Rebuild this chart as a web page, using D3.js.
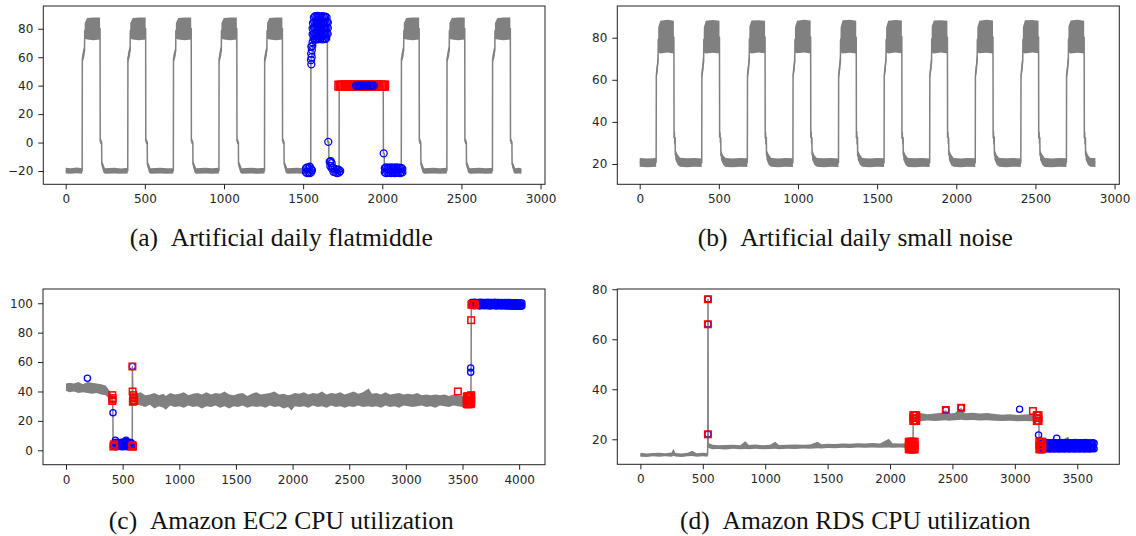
<!DOCTYPE html>
<html>
<head>
<meta charset="utf-8">
<script src="https://cdn.jsdelivr.net/npm/d3@7"></script>
<style>
  body { margin: 0; background: #ffffff; }
  .tick text { font-family: "DejaVu Sans", sans-serif; font-size: 12px; fill: #262626; }
  .caption { font-family: "Liberation Serif", "Times New Roman", serif; font-size: 25.5px; fill: #111; }
</style>
</head>
<body>
<div id="figure"></div>
<script>
// series rows are [x, low, high] : band of the grey curve
const aSeries = [
  [0,-21.8,-17.8],[30,-22,-18],[70,-21.6,-17.6],[104,-22,-18],[105,56,62],[112,58,66],[119,61,68],[120,73,84],[135,72.5,87.5],[175,72,88],[217,72.5,88],[218,-1,3],[227,-1,2],[228,-17,-13],[238,-21,-15],[248,-22,-18],
  [308,-21.8,-17.8],[350,-22,-18.2],[392,-21.7,-17.8],[393,56,63],[400,58,66],[407,61,68],[408,73,84],[423,72.5,87.5],[463,72,88],[505,72.5,88],[506,-1,3],[515,-1,2],[516,-17,-13],[526,-21,-15],[536,-22,-18],
  [596,-21.8,-17.8],[640,-22,-18],[680,-21.7,-17.9],[681,56,62],[688,58,65],[695,61,68],[696,73,84],[711,72.5,87.5],[751,72,88],[793,72.5,88],[794,-1,3],[803,-1,2],[804,-17,-13],[814,-21,-15],[824,-22,-18],
  [884,-21.8,-17.8],[925,-22,-18],[968,-21.7,-17.8],[969,56,62],[976,58,66],[983,61,68],[984,73,84],[999,72.5,87.5],[1039,72,88],[1081,72.5,88],[1082,-1,3],[1091,-1,2],[1092,-17,-13],[1102,-21,-15],[1112,-22,-18],
  [1172,-21.8,-17.8],[1215,-22,-18],[1256,-21.7,-17.8],[1257,56,62],[1264,58,66],[1271,61,68],[1272,73,84],[1287,72.5,87.5],[1327,72,88],[1369,72.5,88],[1370,-1,3],[1379,-1,2],[1380,-17,-13],[1390,-21,-15],[1400,-22,-18],
  [1460,-21.8,-17.8],[1500,-22,-18],[1548,-21.7,-17.8],[1549,55,60],[1556,57,66],[1560,60,70],[1561,72,84],[1575,72.5,87.5],[1615,72,88],[1653,72.5,88],[1654,-1,2],[1662,-0.5,1.5],[1663,-15,-12],[1672,-20,-15],[1682,-22,-18],[1705,-21.8,-17.8],[1727,-22,-18],
  [1728,40,40],[2006,40,40],[2007,-8,-7],[2012,-8,-7],[2013,-20,-17],[2022,-22,-18],
  [2060,-21.8,-17.8],[2100,-22,-18],[2120,-21.7,-17.8],[2121,56,62],[2128,58,66],[2135,61,68],[2136,73,84],[2151,72.5,87.5],[2191,72,88],[2233,72.5,88],[2234,-1,3],[2243,-1,2],[2244,-17,-13],[2254,-21,-15],[2264,-22,-18],
  [2324,-21.8,-17.8],[2365,-22,-18],[2408,-21.7,-17.8],[2409,56,62],[2416,58,66],[2423,61,68],[2424,73,84],[2439,72.5,87.5],[2479,72,88],[2521,72.5,88],[2522,-1,3],[2531,-1,2],[2532,-17,-13],[2542,-21,-15],[2552,-22,-18],
  [2612,-21.8,-17.8],[2655,-22,-18],[2696,-21.7,-17.8],[2697,56,62],[2704,58,66],[2711,61,68],[2712,73,84],[2727,72.5,87.5],[2767,72,88],[2809,72.5,88],[2810,-1,3],[2819,-1,2],[2820,-17,-13],[2830,-21,-15],[2840,-22,-18],[2860,-21.8,-17.8],[2879,-22,-18]
];
const aBlue = [
  [1518,-18],[1518,-21],[1526,-17.5],[1526,-21.5],[1534,-18],[1534,-21],[1542,-17],[1542,-21.5],[1550,-18.5],[1550,-21],[1556,-19.5],
  [1552,55],[1550,58],[1554,60],[1551,62.5],[1555,65],[1552,67.5],[1558,68],[1560,70.5],
  [1568,88],[1576,88.8],[1584,88.2],[1592,89],[1600,88.3],[1608,88.7],[1616,88.1],[1624,88.9],[1632,88.2],[1640,88.6],[1648,88],
  [1562,84],[1570,85],[1578,84.3],[1586,84.8],[1594,84.1],[1602,85],[1610,84.4],[1618,84.9],[1626,84.2],[1634,84.7],[1642,84.1],[1650,84.8],[1656,84.4],
  [1560,80.2],[1568,80.9],[1576,80.3],[1584,80.7],[1592,80.1],[1600,81],[1608,80.4],[1616,80.8],[1624,80.2],[1632,80.7],[1640,80.3],[1648,80.9],[1656,80.5],
  [1560,76.2],[1568,76.8],[1576,76.1],[1584,76.9],[1592,76.4],[1600,76.7],[1608,76.2],[1616,76.9],[1624,76.3],[1632,76.6],[1640,76.1],[1648,76.8],[1655,76.4],
  [1566,73.2],[1574,72.6],[1582,73.1],[1590,72.5],[1598,73],[1606,72.7],[1614,73.3],[1622,72.6],[1630,73],[1638,72.8],[1646,73.2],
  [1659,0.5],
  [1668,-13.5],[1674,-13],[1680,-14.5],[1672,-16.5],[1680,-18],[1688,-17.5],[1692,-20.5],[1700,-18.5],[1704,-21],[1712,-19],[1716,-21.5],[1724,-19],[1728,-21],[1734,-20],
  [1834,40],[1842,40],[1850,40],[1858,40],[1866,40],[1874,40],[1882,40],[1890,40],[1898,40],[1906,40],[1914,40],[1922,40],[1930,40],[1938,40],[1946,40],
  [2009,-7.6],
  [2016,-18],[2016,-21],[2024,-17.5],[2024,-21.5],[2032,-18.2],[2032,-20.8],[2040,-17.6],[2040,-21.3],[2048,-18],[2048,-21],[2056,-17.4],[2056,-21.5],[2064,-18.1],[2064,-20.9],[2072,-17.7],[2072,-21.2],[2080,-18],[2080,-21.4],[2088,-17.5],[2088,-20.8],[2096,-18.2],[2096,-21.3],[2104,-17.6],[2104,-21],[2112,-18],[2112,-21.5],[2120,-17.8],[2120,-20.9],[2127,-18.5],[2127,-21]
];
const aRed = [
  [1728,40],[1736,40],[1744,40],[1752,40],[1760,40],[1768,40],[1776,40],[1784,40],[1792,40],[1800,40],[1808,40],[1816,40],[1824,40],[1832,40],[1840,40],[1848,40],[1856,40],[1864,40],[1872,40],
  [1880,40],[1888,40],[1896,40],[1904,40],[1912,40],[1920,40],[1928,40],[1936,40],[1944,40],[1952,40],[1960,40],[1968,40],[1976,40],[1984,40],[1992,40],[2000,40],[2008,40],[2012,40]
];

const bSeries = [
  [0,18.7,22.8],[50,18.5,22.6],[104,18.7,22.9],
  [105,60,64],[110,62,69],[116,65,72],[117,73,85],[130,72.5,88],[175,73,88.5],[216,72.5,88],[217,29,36],[224,30,35],[225,22,27],[240,19.5,24.5],[255,18.7,23],[300,18.5,22.7],[345,18.7,22.9],[392,18.6,22.6],
  [393,61,65],[398,62,70],[404,65,72],[405,73,85],[418,72.5,88],[463,72.8,88.4],[504,72.5,88],[505,30,36],[512,30,34.5],[513,22,26.5],[528,19.5,24],[543,18.6,22.9],[588,18.5,22.6],[633,18.7,22.8],[680,18.6,22.7],
  [681,60,64],[686,62,69],[692,65,72.5],[693,73,85.5],[706,72.5,88.2],[751,73,88.3],[792,72.6,88],[793,29,35.5],[800,30,35],[801,22,26.8],[816,19.4,24.5],[831,18.7,22.9],[876,18.5,22.6],[921,18.7,22.8],[968,18.6,22.7],
  [969,60.5,64],[974,62,69.5],[980,65,72],[981,73,85],[994,72.6,88],[1039,73,88.5],[1080,72.5,88.2],[1081,29.5,36],[1088,30,35],[1089,22,27],[1104,19.5,24.2],[1119,18.7,22.9],[1164,18.5,22.7],[1209,18.7,22.8],[1256,18.6,22.6],
  [1257,60,64.5],[1262,62,69],[1268,65,72],[1269,73,85],[1282,72.5,88.3],[1327,72.8,88.5],[1368,72.5,88],[1369,29,36],[1376,30,35.5],[1377,22,26.5],[1392,19.5,24.5],[1407,18.7,22.8],[1452,18.5,22.6],[1497,18.7,22.9],[1544,18.6,22.7],
  [1545,60,64],[1550,62,69],[1556,65,72.5],[1557,73,85],[1570,72.5,88],[1615,73,88.4],[1656,72.6,88.2],[1657,29,35.5],[1664,30,35],[1665,22,27],[1680,19.5,24.3],[1695,18.6,22.9],[1740,18.5,22.7],[1785,18.7,22.8],[1832,18.6,22.6],
  [1833,60.5,64],[1838,62,69],[1844,65,72],[1845,73,85.5],[1858,72.5,88.2],[1903,73,88.3],[1944,72.5,88],[1945,29.5,36],[1952,30,35],[1953,22,26.8],[1968,19.4,24.5],[1983,18.7,22.8],[2028,18.5,22.6],[2073,18.7,22.9],[2120,18.6,22.7],
  [2121,60,64],[2126,62,69.5],[2132,65,72],[2133,73,85],[2146,72.6,88],[2191,72.8,88.5],[2232,72.5,88.2],[2233,29,36],[2240,30,35.5],[2241,22,27],[2256,19.5,24.3],[2271,18.7,22.9],[2316,18.5,22.7],[2361,18.7,22.8],[2408,18.6,22.6],
  [2409,60,64.5],[2414,62,69],[2420,65,72.5],[2421,73,85],[2434,72.5,88.3],[2479,73,88.4],[2520,72.6,88],[2521,29.5,35.5],[2528,30,35],[2529,22,26.5],[2544,19.5,24.5],[2559,18.6,22.8],[2604,18.5,22.6],[2649,18.7,22.9],[2696,18.6,22.7],
  [2697,60.5,64],[2702,62,69],[2708,65,72],[2709,73,85.5],[2722,72.5,88.2],[2767,72.8,88.5],[2808,72.5,88],[2809,29,36],[2816,30,35],[2817,22,27],[2832,19.5,24.3],[2847,18.7,22.9],[2879,18.6,22.8]
];

const cSeries = [
  [0,40.5,45.5],[30,39.5,46],[70,40,45.5],[110,39,46.5],[150,39.5,45],[190,39,46.5],[230,38.5,46],[270,39,45.5],[310,38,45],[350,37.5,44],[380,35,41],[400,32,38.5],[413,31.5,37],
  [414,25,26],[416,2,5],[450,2,6.5],[500,2.5,6],[540,2,6.5],[585,2,4],[586,56.5,57.5],[590,33,39],
  [620,31,38.5],[660,30.5,39.5],[700,29.5,37.5],[740,31,38],[780,28.5,39],[820,30,37.5],[860,29,38.5],[880,27.5,37],[920,30.5,39],[960,29.5,38],[1000,30,38.5],[1040,29,39.5],[1080,30.5,37.5],
  [1120,29.5,38.5],[1160,30,39],[1200,28.5,38],[1240,30,39.5],[1280,29.5,38],[1320,30.5,39],[1360,29,38.5],[1400,30,40],[1440,28.5,38],[1480,30,37.5],[1520,29.5,38.5],[1560,30.5,39],
  [1600,29,37],[1640,30,38.5],[1680,29.5,39.5],[1720,30,38],[1760,29,38.5],[1800,30.5,39],[1840,29.5,40],[1880,30,38],[1920,28.5,38.5],[1960,29.5,37.5],[1990,27,38],[2020,30,39],
  [2060,29.5,38.5],[2100,30,39.5],[2140,29,38],[2180,30.5,39],[2220,29.5,38.5],[2260,30,40],[2300,29,38],[2340,30.5,39],[2380,29.5,38.5],[2420,30,39.5],[2460,29,38],[2500,30,39],
  [2540,29.5,40],[2580,30.5,38.5],[2620,29.5,39.5],[2672,30,42],[2700,29.5,38.5],[2740,30,39],[2780,29,38],[2820,30.5,39.5],[2860,29.5,38],[2900,30,38.5],[2940,29,39],[2980,30.5,38],
  [3020,30,38.5],[3060,29.5,38],[3100,30,39],[3140,30.5,37.5],[3180,29.5,38],[3220,30,37.5],[3260,29,38],[3300,30.5,37.5],[3340,30,38],[3380,29.5,37],[3420,30.5,38],[3460,30,37.5],
  [3500,29.5,37],[3540,30,37.5],[3574,30.5,37],[3575,52.5,53.5],[3576,55.5,56.5],[3577,88,89],[3578,98.5,100.5],[3620,98.5,100.5],[3700,98,100.5],[3800,98.5,100.5],[3900,98,100],[4000,97.5,100],[4032,98,100]
];
const cBlue = [
  [189,49],[415,25.5],
  [432,2.6],[432,5.2],[444,2.4],[444,5.4],[456,2.7],[456,5],[468,2.5],[468,5.3],[480,2.8],[480,5.1],[492,2.4],[492,5.5],[504,2.6],[504,5.2],[516,2.5],[516,5.6],
  [528,2.7],[528,5.9],[540,2.4],[540,5.3],[552,2.6],[552,5],[564,2.5],[564,5.4],[576,2.7],[576,5.1],[580,3.5],[436,6.8],[530,6.8],
  [586,57],[3572,53],[3572,56],
  [3580,98.4],[3580,100.6],[3592,98.6],[3592,100.4],[3604,98.3],[3604,100.7],[3616,98.5],[3616,100.5],[3628,98.7],[3628,100.3],[3640,98.4],[3640,100.6],[3652,98.2],[3652,100.5],
  [3664,98.6],[3664,100.7],[3676,98.4],[3676,100.4],[3688,98.5],[3688,100.6],[3700,98.3],[3700,100.5],[3712,98.6],[3712,100.3],[3724,98.4],[3724,100.7],[3736,98.2],[3736,100.4],
  [3748,98.5],[3748,100.6],[3760,98.3],[3760,100.5],[3772,98.6],[3772,100.4],[3784,98.4],[3784,100.7],[3796,98.1],[3796,100.3],[3808,98.5],[3808,100.6],[3820,98.3],[3820,100.5],
  [3832,98.6],[3832,100.4],[3844,98.2],[3844,100.6],[3856,98.4],[3856,100.3],[3868,98.5],[3868,100.5],[3880,98.2],[3880,100.4],[3892,98.4],[3892,100.6],[3904,98.1],[3904,100.3],
  [3916,98.3],[3916,100.5],[3928,98.2],[3928,100.2],[3940,98],[3940,100.4],[3952,98.3],[3952,100.3],[3964,98.1],[3964,100.2],[3976,97.9],[3976,100.4],[3988,98.2],[3988,100.1],
  [4000,97.9],[4000,100.2],[4012,98],[4012,100],[4024,98.1],[4024,100.2]
];
const cRed = [
  [408,33.5],[410,35.5],[409,37.5],[412,34.5],[418,2.5],[422,4],[426,3],
  [584,2.5],[588,3.5],[592,2.5],[586,57],[588,40],[590,33],[592,35.5],[594,37.5],[598,34],[600,36],[602,33.5],
  [3459,40],
  [3537,31.5],[3537,34],[3537,36.5],[3545,31.2],[3545,34.2],[3545,36.8],[3553,31.6],[3553,33.8],[3553,36.4],[3561,31.3],[3561,34.1],[3561,36.7],[3569,31.5],[3569,34],[3569,36.5],[3577,31.8],[3577,34.3],[3577,37.5],
  [3576,88.5],
  [3578,99],[3586,99.5],[3594,99],[3602,99.5],[3610,99]
];

const dSeries = [
  [0,13,14.6],[50,12.9,14.3],[100,13.2,14.5],[150,13,14.6],[200,13.2,14.4],[250,13,14.7],[265,13.4,16.2],[280,13.1,14.5],[330,12.9,14.3],[380,13.2,14.6],[415,13.3,15.4],[450,13,14.4],[500,13.2,14.6],[538,13,14.5],
  [540,21.5,22.5],[541,65.5,66.5],[542,75.5,76.5],[543,16.5,18.5],
  [580,16,17.8],[620,16.1,17.6],[680,15.9,17.7],[740,16.2,17.8],[800,16,17.6],[840,16.1,19.2],[870,16,17.7],[920,16.2,17.9],[980,16,17.6],[1040,16.1,17.8],[1080,16.2,19],[1110,16,17.7],
  [1180,16.2,17.8],[1240,16.1,17.9],[1300,16.3,17.8],[1360,16.2,17.9],[1420,16.4,19],[1450,16.3,18],[1500,16.5,18.2],[1560,16.4,18.1],[1620,16.6,18.3],[1680,16.5,18.2],[1740,16.7,18.4],
  [1800,16.6,18.3],[1860,16.7,18.5],[1920,16.6,18.3],[1990,16.7,20.2],[2020,16.6,18.4],[2080,16.7,18.3],[2140,16.5,18.4],[2184,16.6,18.2],
  [2186,27,30],[2240,27.2,30.5],[2300,27.5,30],[2360,27.3,30.3],[2420,27.5,30.6],[2447,27.6,31.7],[2470,27.4,30.3],[2520,27.6,30.5],[2570,27.8,32.6],[2600,27.6,30.4],[2660,27.7,30.6],
  [2720,27.5,30.3],[2780,27.6,30.5],[2840,27.4,30.1],[2900,27.3,29.8],[2960,27.4,30],[3020,27.2,29.7],[3080,27.3,29.9],[3140,27.2,30],[3145,27.5,31.3],[3192,27.2,29.6],
  [3194,21.2,22.2],[3196,16,18.5],[3260,16,18.3],[3330,16.2,18.6],[3428,16.1,21],[3450,16,18.4],[3550,16.1,18.5],[3640,16,18.2]
];
const dBlue = [
  [541,76],[541,66],[541,22],[2447,31.7],[2570,32.6],[3038,32],[3190,21.7],[3336,20.4],
  [3215,16.2],[3215,18.4],[3225,16.4],[3225,18.6],[3235,16.1],[3235,18.3],[3245,16.3],[3245,18.5],[3255,16.2],[3255,18.7],[3265,16.4],[3265,18.4],[3275,16.1],[3275,18.6],
  [3285,16.3],[3285,18.3],[3295,16.2],[3295,18.5],[3305,16.5],[3305,18.7],[3315,16.1],[3315,18.4],[3325,16.3],[3325,18.6],[3335,16.2],[3335,18.3],[3345,16.4],[3345,18.5],
  [3355,16.1],[3355,18.6],[3365,16.3],[3365,18.4],[3375,16.2],[3375,18.7],[3385,16.4],[3385,18.3],[3395,16.1],[3395,18.5],[3405,16.3],[3405,18.6],[3415,16.2],[3415,18.4],
  [3425,16.4],[3425,18.7],[3435,16.1],[3435,18.3],[3445,16.3],[3445,18.5],[3455,16.2],[3455,18.6],[3465,16.4],[3465,18.4],[3475,16.1],[3475,18.5],[3485,16.3],[3485,18.7],
  [3495,16.2],[3495,18.3],[3505,16.4],[3505,18.6],[3515,16.1],[3515,18.4],[3525,16.3],[3525,18.5],[3535,16.2],[3535,18.6],[3545,16.4],[3545,18.3],[3555,16.1],[3555,18.5],
  [3565,16.3],[3565,18.7],[3575,16.2],[3575,18.4],[3585,16.4],[3585,18.6],[3595,16.1],[3595,18.3],[3605,16.3],[3605,18.5],[3615,16.2],[3615,18.4],[3625,16.4],[3625,18.6],[3635,16.2],[3635,18.4]
];
const dRed = [
  [541,76],[541,66],[541,22],
  [2150,16],[2150,17.5],[2150,19],[2158,16],[2158,17.5],[2158,19],[2166,16],[2166,17.5],[2166,19],[2174,16],[2174,17.5],[2174,19],[2182,16],[2182,17.5],[2182,19],[2190,16],[2190,17.5],[2190,19],[2198,16],[2198,17.5],[2198,19],
  [2186,27.3],[2186,28.5],[2186,29.6],[2194,27.3],[2194,28.5],[2194,29.6],[2202,27.3],[2202,28.5],[2202,29.6],[2210,27.3],[2210,28.5],[2210,29.6],
  [2447,31.7],[2570,32.6],[3145,31.3],
  [3176,27.3],[3176,28.5],[3176,29.6],[3184,27.3],[3184,28.5],[3184,29.6],[3190,27.3],[3190,28.5],[3190,29.6],
  [3196,16],[3196,17.5],[3196,19],[3204,16],[3204,17.5],[3204,19],[3212,16],[3212,17.5],[3212,19],[3220,16],[3220,17.5],[3220,19]
];

const ticksX3000 = [0, 500, 1000, 1500, 2000, 2500, 3000];
const ticksX4000 = [0, 500, 1000, 1500, 2000, 2500, 3000, 3500, 4000];
const ticksX3500 = [0, 500, 1000, 1500, 2000, 2500, 3000, 3500];
const ticksYa = [-20, 0, 20, 40, 60, 80];
const ticksYb = [20, 40, 60, 80];
const ticksYc = [0, 20, 40, 60, 80, 100];
const ticksYd = [20, 40, 60, 80];
const captions = [
  "(a)\u2002Artificial daily flatmiddle",
  "(b)\u2002Artificial daily small noise",
  "(c)\u2002Amazon EC2 CPU utilization",
  "(d)\u2002Amazon RDS CPU utilization"
];

const grey = "#808080";
const width = 1136, height = 536;

const panels = [
  { series: aSeries, blue: aBlue, red: aRed, left: 43.3, top: 6, w: 501.7, h: 178.3,
    xDomain: [-141.5, 3028], yDomain: [-29.35, 96], xTicks: ticksX3000, yTicks: ticksYa,
    r: 3.5, sq: 8.5, redOnTop: false, caption: captions[0], capX: 281.3, capY: 246 },
  { series: bSeries, blue: [], red: [], left: 617.3, top: 6, w: 502, h: 178.3,
    xDomain: [-141.5, 3030], yDomain: [10.36, 95.06], xTicks: ticksX3000, yTicks: ticksYb,
    r: 3.5, sq: 8.5, redOnTop: true, caption: captions[1], capX: 855.3, capY: 246 },
  { series: cSeries, blue: cBlue, red: cRed, left: 43, top: 289, w: 502, h: 175.7,
    xDomain: [-203, 4228], yDomain: [-9.8, 109.7], xTicks: ticksX4000, yTicks: ticksYc,
    r: 3.1, sq: 6.5, redOnTop: true, caption: captions[2], capX: 281.3, capY: 529 },
  { series: dSeries, blue: dBlue, red: dRed, left: 617.3, top: 289, w: 502, h: 175.3,
    xDomain: [-185, 3837], yDomain: [10, 80.1], xTicks: ticksX3500, yTicks: ticksYd,
    r: 3.1, sq: 6.5, redOnTop: true, caption: captions[3], capX: 855.3, capY: 529 }
];

const svg = d3.select("#figure").append("svg")
    .attr("width", width)
    .attr("height", height)
    .style("display", "block");

svg.append("rect").attr("width", width).attr("height", height).attr("fill", "#ffffff");

function drawPanel(p) {
  const x = d3.scaleLinear().domain(p.xDomain).range([0, p.w]);
  const y = d3.scaleLinear().domain(p.yDomain).range([p.h, 0]);

  const g = svg.append("g")
      .attr("transform", "translate(" + p.left + "," + p.top + ")");

  // grey curve: noise band plus the centre line for the jumps
  g.append("path")
      .datum(p.series)
      .attr("fill", grey)
      .attr("d", d3.area()
        .x(function(d) { return x(d[0]); })
        .y0(function(d) { return y(d[1]); })
        .y1(function(d) { return y(d[2]); }));

  g.append("path")
      .datum(p.series)
      .attr("fill", "none")
      .attr("stroke", grey)
      .attr("stroke-width", 1.5)
      .attr("stroke-linejoin", "round")
      .attr("d", d3.line()
        .x(function(d) { return x(d[0]); })
        .y(function(d) { return y((d[1] + d[2]) / 2); }));

  function drawBlue() {
    g.append("g").selectAll("circle")
        .data(p.blue)
      .enter().append("circle")
        .attr("cx", function(d) { return x(d[0]); })
        .attr("cy", function(d) { return y(d[1]); })
        .attr("r", p.r)
        .attr("fill", "none")
        .attr("stroke", "#0000ff")
        .attr("stroke-width", 1.3);
  }

  function drawRed() {
    g.append("g").selectAll("rect")
        .data(p.red)
      .enter().append("rect")
        .attr("x", function(d) { return x(d[0]) - p.sq / 2; })
        .attr("y", function(d) { return y(d[1]) - p.sq / 2; })
        .attr("width", p.sq)
        .attr("height", p.sq)
        .attr("fill", "none")
        .attr("stroke", "#ff0000")
        .attr("stroke-width", 1.5);
  }

  if (p.redOnTop) {
    drawBlue();
    drawRed();
  } else {
    drawRed();
    drawBlue();
  }

  const xAxis = g.append("g")
      .attr("transform", "translate(0," + p.h + ")")
      .call(d3.axisBottom(x).tickValues(p.xTicks).tickSize(5).tickPadding(5.5).tickFormat(d3.format("d")));
  const yAxis = g.append("g")
      .call(d3.axisLeft(y).tickValues(p.yTicks).tickSize(5).tickPadding(5).tickFormat(d3.format("d")));

  [xAxis, yAxis].forEach(function(a) {
    a.select(".domain").remove();
    a.selectAll(".tick line").attr("stroke", "#222").attr("stroke-width", 1);
    a.attr("font-family", null).attr("font-size", null);
  });

  g.append("rect")
      .attr("x", 0)
      .attr("y", 0)
      .attr("width", p.w)
      .attr("height", p.h)
      .attr("fill", "none")
      .attr("stroke", "#222")
      .attr("stroke-width", 1);

  svg.append("text")
      .attr("class", "caption")
      .attr("x", p.capX)
      .attr("y", p.capY)
      .attr("text-anchor", "middle")
      .text(p.caption);
}

panels.forEach(drawPanel);
</script>
</body>
</html>
